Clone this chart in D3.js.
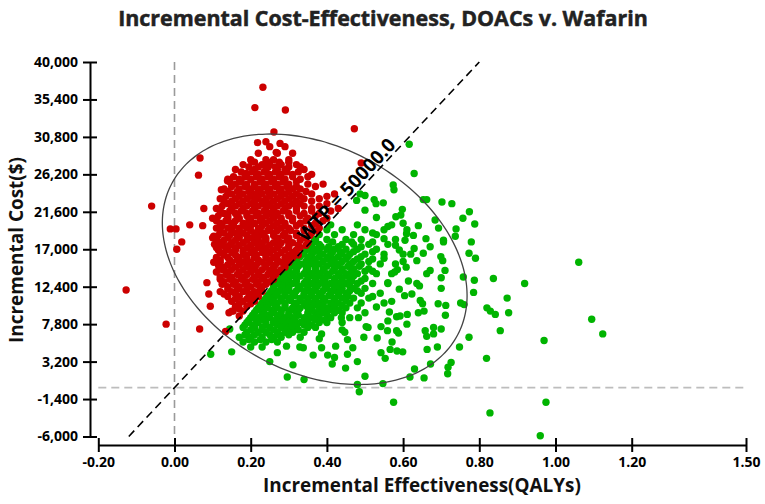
<!DOCTYPE html>
<html>
<head>
<meta charset="utf-8">
<script src="https://cdn.jsdelivr.net/npm/d3@7/dist/d3.min.js"></script>
<style>
  html, body { margin: 0; padding: 0; background: #fff; }
  svg { display: block; }
  text { font-family: "Open Sans", "Noto Sans", sans-serif; }
</style>
</head>
<body>
<svg id="chart" width="765" height="504"></svg>
<script>
// ---------------- DATA ----------------
const titleText = "Incremental Cost-Effectiveness, DOACs v. Wafarin";
const xLabelText = "Incremental Effectiveness(QALYs)";
const yLabelText = "Incremental Cost($)";
const wtpLabel = "WTP = 50000.0";
const wtp = 50000;

const xTicks = [-0.2, 0, 0.2, 0.4, 0.6, 0.8, 1.0, 1.2, 1.5];
const yTicks = [-6000, -1400, 3200, 7800, 12400, 17000, 21600, 26200, 30800, 35400, 40000];

// dense part of the red cloud: [incremental cost, [incremental QALYs ...]]
const redRows = [
  [29600,[0.25,0.29]],
  [28800,[0.22,0.27,0.31]],
  [28000,[0.20,0.24,0.26,0.30]],
  [27700,[0.21,0.245,0.275,0.30]],
  [27400,[0.18,0.23,0.25,0.28,0.32]],
  [27100,[0.195,0.22,0.265,0.30,0.33]],
  [26800,[0.16,0.21,0.24,0.27,0.29,0.34]],
  [26500,[0.175,0.205,0.235,0.265,0.295,0.325]],
  [26200,[0.19,0.22,0.25,0.28,0.31,0.36]],
  [25900,[0.155,0.185,0.215,0.245,0.275,0.31,0.35]],
  [25600,[0.14,0.17,0.20,0.23,0.26,0.29,0.33]],
  [25300,[0.145,0.175,0.225,0.255,0.285,0.32]],
  [25000,[0.16,0.19,0.21,0.24,0.27,0.30,0.35,0.39]],
  [24700,[0.15,0.185,0.21,0.235,0.265,0.295,0.32,0.37]],
  [24400,[0.13,0.17,0.20,0.22,0.25,0.28,0.31,0.33]],
  [24100,[0.14,0.165,0.195,0.225,0.245,0.275,0.30,0.345]],
  [23800,[0.15,0.18,0.21,0.23,0.26,0.29,0.32,0.36,0.42]],
  [23500,[0.135,0.17,0.20,0.215,0.25,0.28,0.31,0.33,0.40]],
  [23200,[0.12,0.16,0.19,0.22,0.24,0.27,0.30,0.34,0.38]],
  [22900,[0.13,0.15,0.18,0.21,0.235,0.26,0.29,0.32,0.36]],
  [22600,[0.14,0.17,0.20,0.23,0.25,0.28,0.31,0.33,0.40]],
  [22300,[0.125,0.16,0.19,0.22,0.245,0.27,0.30,0.34,0.38]],
  [22000,[0.11,0.15,0.18,0.21,0.24,0.26,0.29,0.32,0.36,0.43]],
  [21700,[0.12,0.145,0.175,0.205,0.235,0.26,0.285,0.32,0.36,0.41]],
  [21400,[0.13,0.16,0.19,0.22,0.25,0.27,0.30,0.34,0.38]],
  [21100,[0.115,0.14,0.165,0.19,0.215,0.24,0.265,0.30,0.33,0.37]],
  [20800,[0.10,0.14,0.17,0.20,0.23,0.26,0.28,0.31,0.35,0.40]],
  [20500,[0.11,0.135,0.16,0.195,0.225,0.25,0.28,0.31,0.345,0.39]],
  [20200,[0.12,0.15,0.18,0.21,0.24,0.27,0.29,0.33,0.37]],
  [19900,[0.125,0.155,0.185,0.20,0.23,0.26,0.29,0.32,0.36]],
  [19600,[0.11,0.14,0.17,0.19,0.22,0.25,0.28,0.30,0.34,0.38]],
  [19300,[0.12,0.15,0.17,0.20,0.225,0.245,0.27,0.305,0.34,0.375]],
  [19000,[0.13,0.16,0.18,0.21,0.23,0.26,0.29,0.32,0.36]],
  [18700,[0.115,0.145,0.165,0.19,0.215,0.235,0.26,0.285,0.32,0.355]],
  [18400,[0.10,0.14,0.17,0.20,0.22,0.24,0.27,0.30,0.34]],
  [18100,[0.11,0.13,0.16,0.19,0.215,0.24,0.27,0.295,0.33]],
  [17800,[0.12,0.15,0.18,0.21,0.23,0.26,0.28,0.31,0.35]],
  [17500,[0.125,0.145,0.17,0.20,0.225,0.25,0.275,0.30,0.325,0.345]],
  [17200,[0.11,0.14,0.16,0.19,0.22,0.24,0.27,0.30,0.33]],
  [16900,[0.115,0.135,0.16,0.18,0.21,0.235,0.26,0.29,0.32]],
  [16600,[0.12,0.15,0.18,0.20,0.23,0.25,0.28,0.31]],
  [16300,[0.13,0.16,0.185,0.215,0.24,0.27,0.30,0.325]],
  [16000,[0.11,0.14,0.17,0.19,0.21,0.24,0.26,0.29,0.31]],
  [15700,[0.12,0.145,0.165,0.19,0.22,0.25,0.27,0.295]],
  [15400,[0.12,0.15,0.18,0.20,0.23,0.25,0.28,0.30]],
  [15100,[0.115,0.14,0.17,0.195,0.215,0.24,0.265,0.29]],
  [14800,[0.13,0.16,0.19,0.21,0.24,0.26,0.29]],
  [14500,[0.125,0.15,0.18,0.205,0.23,0.255,0.28]],
  [14200,[0.11,0.14,0.17,0.20,0.22,0.25,0.27]],
  [13900,[0.135,0.165,0.19,0.22,0.245,0.265]],
  [13600,[0.12,0.15,0.18,0.21,0.23,0.26]],
  [13300,[0.12,0.145,0.175,0.205,0.235,0.26]],
  [13000,[0.13,0.16,0.19,0.22,0.25]],
  [12700,[0.125,0.155,0.185,0.215,0.24]],
  [12400,[0.14,0.17,0.20,0.23]],
  [12100,[0.14,0.165,0.19,0.225]],
  [11800,[0.12,0.15,0.18,0.21,0.23]],
  [11500,[0.13,0.16,0.195,0.215]],
  [11200,[0.14,0.17,0.20,0.22]],
  [10900,[0.16,0.19,0.21]],
  [10600,[0.15,0.18,0.21]],
  [10300,[0.17,0.20]],
  [10000,[0.16,0.19]],
  [9700,[0.17]],
  [9400,[0.15,0.18]],
  [8800,[0.17]]
];

// scattered red simulations: [QALYs, cost]
const redScatter = [
  [0.232,36900],[0.211,34400],[0.291,34100],[0.261,31400],[0.218,30100],[0.240,30200],
  [0.277,30000],[0.067,28200],[0.063,26100],[0.202,27800],[0.139,25400],[0.123,24300],
  [-0.060,22300],[0.077,22000],[0.040,20000],[0.074,19900],[-0.011,19500],[0.004,19500],
  [0.019,17900],[0.006,17000],[0.118,19700],[0.103,18600],[-0.127,12000],[-0.022,7800],
  [0.066,7200],[0.134,6900],[0.472,31800],[0.490,27600],[0.085,12900],[0.090,11500],
  [0.094,10000],[0.143,9200],[0.154,9400],[0.103,15400],[0.117,14700],[0.164,21300],
  [0.121,17800],[0.105,17600],[0.135,17300],[0.188,26300],[0.246,27100],[0.267,28900]
];

// dense part of the green cloud: [incremental cost, [incremental QALYs ...]]
const greenRows = [
  [20000,[0.41,0.48,0.57]],
  [19400,[0.40,0.44,0.50,0.55,0.61]],
  [18800,[0.38,0.42,0.47,0.53]],
  [18200,[0.37,0.40,0.45,0.49,0.58]],
  [17900,[0.365,0.415,0.465,0.52]],
  [17600,[0.36,0.38,0.44,0.47,0.51,0.56]],
  [17300,[0.355,0.385,0.405,0.43,0.49]],
  [17000,[0.35,0.37,0.40,0.42,0.45,0.48,0.53]],
  [16700,[0.34,0.365,0.38,0.415,0.435,0.47,0.52]],
  [16400,[0.34,0.36,0.39,0.41,0.44,0.46,0.50,0.55,0.60]],
  [16100,[0.33,0.355,0.38,0.405,0.43,0.455,0.49]],
  [15800,[0.32,0.35,0.37,0.40,0.42,0.45,0.48,0.52]],
  [15500,[0.32,0.345,0.365,0.39,0.415,0.44,0.47,0.51]],
  [15200,[0.31,0.33,0.36,0.38,0.41,0.43,0.46,0.49,0.54,0.58]],
  [14900,[0.305,0.325,0.345,0.37,0.40,0.425,0.455,0.485]],
  [14600,[0.30,0.32,0.35,0.37,0.39,0.42,0.44,0.47,0.51]],
  [14300,[0.295,0.32,0.345,0.37,0.39,0.415,0.44,0.465,0.50]],
  [14000,[0.29,0.31,0.34,0.36,0.38,0.40,0.43,0.45,0.48,0.53,0.57]],
  [13700,[0.285,0.305,0.33,0.355,0.38,0.405,0.43,0.455,0.47]],
  [13400,[0.28,0.30,0.32,0.35,0.37,0.39,0.42,0.44,0.46,0.50]],
  [13100,[0.275,0.295,0.32,0.345,0.37,0.395,0.42,0.44,0.465,0.49]],
  [12800,[0.27,0.29,0.31,0.34,0.36,0.38,0.41,0.43,0.45,0.48,0.52,0.56]],
  [12500,[0.26,0.285,0.30,0.325,0.35,0.375,0.395,0.42,0.435,0.46]],
  [12200,[0.26,0.28,0.30,0.33,0.35,0.37,0.40,0.42,0.44,0.47,0.50]],
  [11900,[0.255,0.275,0.295,0.32,0.345,0.365,0.39,0.415,0.435,0.46,0.48]],
  [11600,[0.25,0.27,0.29,0.31,0.34,0.36,0.38,0.41,0.43,0.45,0.49,0.54]],
  [11300,[0.245,0.265,0.29,0.315,0.34,0.36,0.385,0.405,0.43,0.455]],
  [11000,[0.24,0.26,0.28,0.30,0.33,0.35,0.37,0.39,0.42,0.44,0.47,0.51]],
  [10700,[0.235,0.255,0.28,0.305,0.33,0.35,0.37,0.395,0.42,0.45]],
  [10400,[0.23,0.25,0.27,0.29,0.32,0.34,0.36,0.38,0.41,0.43,0.46,0.49,0.55]],
  [10100,[0.225,0.245,0.265,0.29,0.315,0.345,0.365,0.39,0.415,0.44]],
  [9800,[0.22,0.24,0.27,0.29,0.31,0.33,0.35,0.38,0.40,0.42,0.45,0.48]],
  [9500,[0.215,0.235,0.255,0.28,0.305,0.325,0.36,0.385,0.405,0.43]],
  [9200,[0.21,0.23,0.26,0.28,0.30,0.32,0.35,0.37,0.39,0.42,0.44,0.50]],
  [8900,[0.205,0.23,0.245,0.275,0.30,0.325,0.35,0.375,0.40]],
  [8600,[0.20,0.22,0.25,0.27,0.29,0.31,0.34,0.36,0.38,0.41,0.46]],
  [8300,[0.195,0.215,0.235,0.265,0.285,0.315,0.345,0.37,0.395]],
  [8000,[0.19,0.22,0.24,0.26,0.28,0.30,0.33,0.35,0.38,0.40,0.44]],
  [7700,[0.185,0.205,0.24,0.27,0.29,0.32,0.34,0.36]],
  [7400,[0.18,0.21,0.23,0.25,0.28,0.30,0.32,0.35,0.37]],
  [7100,[0.20,0.23,0.26,0.295,0.325]],
  [6800,[0.19,0.22,0.24,0.27,0.29,0.31,0.34]],
  [6500,[0.185,0.21,0.25,0.275,0.30]],
  [6200,[0.17,0.20,0.23,0.26,0.28,0.33]],
  [5900,[0.195,0.225,0.255]],
  [5600,[0.18,0.21,0.24,0.27]],
  [5000,[0.20,0.23]],
  [4400,[0.15]]
];

// scattered green simulations: [QALYs, cost]
const greenScatter = [
  [0.095,4100],[0.145,7200],[0.296,1300],[0.294,5100],
  [0.575,-1800],[0.485,-500],[0.480,400],[0.547,500],[0.500,1400],[0.340,1000],
  [0.618,1300],[0.655,1200],[0.717,1700],[0.672,2900],[0.449,2400],[0.414,2900],
  [0.311,2800],[0.364,4000],[0.402,4000],[0.454,4100],[0.553,3600],[0.542,4300],
  [0.566,4700],[0.584,4500],[0.599,4400],[0.663,4700],[0.329,5000],[0.338,4900],
  [0.386,4900],[0.423,5100],[0.468,4900],[0.454,5900],[0.380,6000],[0.386,6600],
  [0.497,6200],[0.532,6100],[0.571,5600],[0.662,6300],[0.658,7000],[0.680,7400],
  [0.680,6600],[0.588,6700],[0.583,7000],[0.559,7000],[0.542,7500],[0.503,7500],
  [0.508,7400],[0.440,7100],[0.447,6800],[0.309,7600],[0.483,8600],[0.438,8600],
  [0.564,9300],[0.583,8700],[0.592,8800],[0.611,9000],[0.640,9200],[0.655,9400],
  [0.604,11300],[0.623,11500],[0.645,10700],[0.651,10300],[0.614,13100],[0.636,12800],
  [0.643,12500],[0.662,14000],[0.671,14400],[0.700,13500],[0.710,14400],[0.692,10300],
  [0.712,10100],[0.700,12200],[0.608,14800],[0.578,14200],[0.585,14500],[0.629,17100],
  [0.671,17300],[0.590,16900],[0.699,16100],[0.704,15600],[0.706,17900],
  [0.702,22800],[0.728,22600],[0.774,21600],[0.757,20800],[0.788,20100],[0.739,19500],
  [0.737,18600],[0.706,18100],[0.779,17900],[0.773,16500],[0.790,15900],[0.758,13600],
  [0.787,13200],[0.785,11700],[0.837,13400],[0.919,12800],[1.061,15400],[0.873,11000],
  [0.877,9200],[0.820,9800],[0.829,9400],[0.842,9000],[0.855,7000],[0.751,10400],
  [0.760,10200],[0.711,8900],[0.700,7200],[0.773,6200],[0.748,5000],[0.726,3100],
  [0.718,2500],[0.819,3600],[0.970,5800],[1.095,8400],[1.124,6600],[0.828,-3100],
  [0.975,-1800],[0.960,-5900],
  [0.616,29900],[0.629,26300],[0.574,24900],[0.576,24300],[0.653,23100],[0.662,23100],
  [0.524,23100],[0.529,22600],[0.548,22700],[0.487,23800],[0.500,23600],[0.478,23000],
  [0.598,21900],[0.594,21200],[0.581,21000],[0.600,20200],[0.609,18900],[0.627,18700],
  [0.605,18100],[0.684,20600],[0.693,19600],[0.653,16500],[0.636,15600],[0.500,21800],
  [0.530,20900],[0.560,19800],[0.520,19000],[0.550,18300],[0.580,17500],[0.620,16400],
  [0.640,19900],[0.660,18300],[0.560,12900],[0.590,12100],[0.570,10600],[0.530,9900],
  [0.520,11200],[0.600,15500],[0.550,15900],[0.520,14300],[0.560,8200],[0.610,7800],
  [0.480,3200],[0.420,3700],[0.250,3200],[0.270,4300],[0.630,2300],[0.690,5000]
];

// 95% confidence ellipse: centre and two semi-axis vectors, in data units
const ellipseCentre = [0.368, 15770];
const ellipseAxisA = [0.375, -9310];
const ellipseAxisB = [0.139, 12250];

// ---------------- CHART ----------------
const svg = d3.select("#chart");
const x = d3.scaleLinear().domain([-0.2, 1.5]).range([98.3, 746]);
const y = d3.scaleLinear().domain([-6000, 40000]).range([436.5, 62]);

const loc = d3.formatLocale({decimal: ".", thousands: ",", grouping: [3], currency: ["$", ""], minus: "-"});
const fmtY = loc.format(",");
const fmtX = loc.format(".2f");

const red = "#cc0000", green = "#00b400";

function expand(rows) {
  const out = [];
  rows.forEach(([c, qs]) => qs.forEach(q => out.push([q, c])));
  return out;
}
const redPts = expand(redRows).concat(redScatter);
const greenPts = expand(greenRows).concat(greenScatter);

// reference (zero) lines
svg.append("line")
  .attr("x1", x(0)).attr("x2", x(0))
  .attr("y1", y(40000)).attr("y2", y(-6000))
  .attr("stroke", "#9a9a9a").attr("stroke-width", 1.6).attr("stroke-dasharray", "8,5");
svg.append("line")
  .attr("x1", x(-0.2)).attr("x2", x(1.5))
  .attr("y1", y(0)).attr("y2", y(0))
  .attr("stroke", "#bdbdbd").attr("stroke-width", 1.6).attr("stroke-dasharray", "8,5");

// points
const pts = svg.append("g");
pts.selectAll("circle.g").data(greenPts).join("circle")
  .attr("class", "g")
  .attr("cx", d => x(d[0])).attr("cy", d => y(d[1])).attr("r", 3.7)
  .attr("fill", green);
pts.selectAll("circle.r").data(redPts).join("circle")
  .attr("class", "r")
  .attr("cx", d => x(d[0])).attr("cy", d => y(d[1])).attr("r", 3.7)
  .attr("fill", red);

// ellipse
const tSteps = d3.range(0, 360, 3).map(a => a * Math.PI / 180);
const ellPts = tSteps.map(t => [
  ellipseCentre[0] + Math.cos(t) * ellipseAxisA[0] + Math.sin(t) * ellipseAxisB[0],
  ellipseCentre[1] + Math.cos(t) * ellipseAxisA[1] + Math.sin(t) * ellipseAxisB[1]
]);
svg.append("path")
  .attr("d", d3.line().x(d => x(d[0])).y(d => y(d[1])).curve(d3.curveCardinalClosed)(ellPts))
  .attr("fill", "none").attr("stroke", "#444").attr("stroke-width", 1.3);

// WTP line
const wtpStart = [-0.12, -0.12 * wtp];
const wtpEnd = [0.8, 0.8 * wtp];
svg.append("line")
  .attr("x1", x(wtpStart[0])).attr("y1", y(wtpStart[1]))
  .attr("x2", x(wtpEnd[0])).attr("y2", y(wtpEnd[1]))
  .attr("stroke", "#000").attr("stroke-width", 1.6).attr("stroke-dasharray", "8,5");

// WTP label along the line
const lq = 0.47;
const lx = x(lq), ly = y(lq * wtp);
const ang = Math.atan2(y(wtp) - y(0), x(1) - x(0)) * 180 / Math.PI;
svg.append("text")
  .attr("transform", `translate(${lx},${ly}) rotate(${ang}) translate(0,-3)`)
  .attr("text-anchor", "middle")
  .attr("font-size", 19).attr("font-weight", "bold").attr("fill", "#000")
  .text(wtpLabel);

// axes
const yAxis = svg.append("g").attr("transform", "translate(90,0)")
  .call(d3.axisLeft(y).tickValues(yTicks).tickFormat(fmtY).tickSizeInner(7).tickSizeOuter(0).tickPadding(5));
yAxis.selectAll(".tick line").attr("x1", 7);
const xAxis = svg.append("g").attr("transform", "translate(0,445)")
  .call(d3.axisBottom(x).tickValues(xTicks).tickFormat(fmtX).tickSizeInner(7).tickSizeOuter(0).tickPadding(5));
xAxis.selectAll(".tick line").attr("y1", -7);
[xAxis, yAxis].forEach(a => {
  a.select(".domain").attr("stroke", "#000").attr("stroke-width", 2);
  a.selectAll(".tick line").attr("stroke", "#000").attr("stroke-width", 2);
  a.selectAll(".tick text").attr("font-size", 14).attr("font-weight", "bold")
    .attr("fill", "#000").attr("font-family", '"Open Sans", sans-serif');
});

// titles
function fitText(sel, w) {
  const cur = sel.node().getComputedTextLength();
  const fs = parseFloat(sel.attr("font-size"));
  sel.attr("font-size", fs * w / cur);
}
const title = svg.append("text")
  .attr("x", 383).attr("y", 26).attr("text-anchor", "middle")
  .attr("font-size", 22).attr("font-weight", "bold").attr("fill", "#222")
  .attr("stroke", "#222").attr("stroke-width", 0.5)
  .text(titleText);
fitText(title, 530);
const xl = svg.append("text")
  .attr("x", 422).attr("y", 492).attr("text-anchor", "middle")
  .attr("font-size", 18).attr("font-weight", "bold").attr("fill", "#111")
  .text(xLabelText);
fitText(xl, 318);
const yl = svg.append("text")
  .attr("transform", "translate(23,250) rotate(-90)").attr("text-anchor", "middle")
  .attr("font-size", 18).attr("font-weight", "bold").attr("fill", "#111")
  .text(yLabelText);
fitText(yl, 186);
</script>
</body>
</html>
